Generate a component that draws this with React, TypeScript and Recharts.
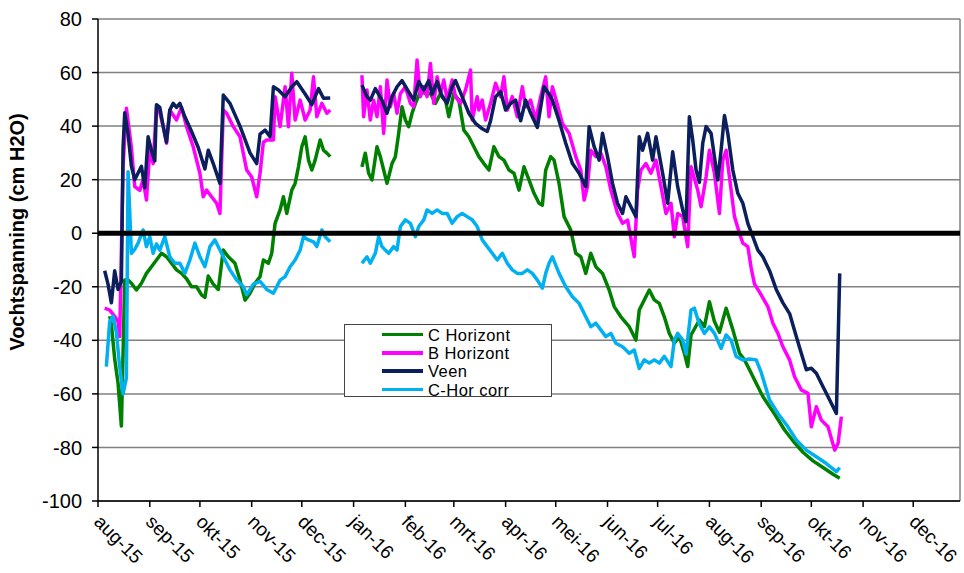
import React from 'react';
import { LineChart, Line, XAxis, YAxis, CartesianGrid, ReferenceLine } from 'recharts';

// x = days since 1 Aug 2015
const monthTicks = [0, 31, 61, 92, 122, 153, 184, 213, 244, 274, 305, 335, 366, 397, 427, 458, 488];
const monthLabels = ['aug-15', 'sep-15', 'okt-15', 'nov-15', 'dec-15', 'jan-16', 'feb-16', 'mrt-16', 'apr-16', 'mei-16', 'jun-16', 'jul-16', 'aug-16', 'sep-16', 'okt-16', 'nov-16', 'dec-16'];
const yTicks = [-100, -80, -60, -40, -20, 0, 20, 40, 60, 80];

const seriesNames = ['C Horizont', 'B Horizont', 'Veen', 'C-Hor corr'];
const seriesColors = ['#008000', '#FF00FF', '#0A1F5C', '#00B0F0'];

const cHorizont: [number, number | null][] = [
  [7, -31], [8, -34], [10, -47], [12, -56], [14, -72], [16, -17.5], [18, -17.5], [20, -18.7], [23, -21.2], [26, -18.7],
  [29, -15], [32, -12.5], [35, -10], [38, -7.5], [41, -8.8], [44, -11.2], [47, -13.7], [50, -15], [53, -17], [56, -20],
  [59, -20], [62, -23], [64, -24], [66, -16], [69, -19], [72, -21], [75, -6.3], [78, -8.8], [80, -10], [82, -11.2],
  [85, -17.5], [88, -25], [91, -22.4], [94, -18.7], [97, -16.2], [99, -10], [102, -11.2], [104, -7.5], [106, 3.7], [109, 8.7],
  [111, 13.6], [113, 7.4], [116, 16.1], [118, 18.6], [120, 24.8], [122, 32.3], [124, 36], [126, 27.3], [128, 23.6], [130, 27.3],
  [133, 34.8], [135, 31], [137, 29.9], [139, 28.6], [148, null],
  [158, 24.8], [160, 29.9], [162, 22.4], [164, 19.9], [167, 32.3], [169, 28.6], [171, 23.6], [173, 18.6], [176, 26], [178, 28.6],
  [180, 37.3], [182, 47.2], [184, 42.3], [186, 39.8], [188, 44.8], [190, 48.5], [193, 52.8], [196, 52.2], [199, 52.2], [202, 48.5],
  [205, 52.2], [208, 49.7], [210, 43.5], [213, 52.2], [216, 49.7], [219, 38.5], [222, 36], [225, 32.3], [228, 28.6], [231, 26],
  [234, 23.6], [237, 32.3], [240, 28.6], [243, 27.3], [246, 23.6], [249, 22.4], [252, 16.1], [255, 24.8], [258, 19.9], [261, 14.9],
  [264, 11.2], [266, 10.5], [268, 23.6], [271, 28.6], [273, 27.3], [276, 18.6], [279, 6.2], [283, 1.2], [286, -7.5], [289, -8.8],
  [292, -15], [295, -7.5], [298, -12.5], [302, -15], [306, -21.2], [309, -27.4], [313, -31.2], [318, -34.9], [322, -39.9], [324, -28.7],
  [327, -24.9], [330, -21.2], [333, -24.9], [336, -26.2], [339, -31.2], [342, -37.4], [345, -41.1], [348, -38.6], [351, -44.8], [353, -49.8],
  [355, -38], [360, -32.4], [363, -34.9], [366, -25.6], [369, -33], [372, -37], [376, -28], [380, -36], [384, -44.8], [387, -47.3],
  [390, -51], [394, -56], [398, -61], [405, -67.5], [411, -73.5], [416, -77.5], [422, -81.8], [428, -85], [434, -87.5], [440, -90],
  [444, -91.5],
];

const bHorizont: [number, number | null][] = [
  [4, -28], [7, -28.7], [10, -31], [12, -33], [13, -38.6], [15, 25], [17, 46.7], [20, 32], [22, 17.4], [25, 16],
  [27, 20], [29, 12.4], [31, 31], [33, 26], [35, 47], [37, 45], [39, 40], [41, 33.6], [43, 46], [47, 42.3],
  [50, 47], [53, 39.8], [57, 32.3], [61, 22.4], [63, 13.6], [65, 16.1], [68, 13.6], [71, 11.2], [73, 7.4], [75, 46],
  [77, 44.8], [81, 39.8], [85, 36], [89, 23.6], [92, 21], [95, 13.6], [97, 22.4], [99, 34], [101, 34.8], [105, 34.8],
  [106, 51], [109, 39.8], [112, 54.7], [114, 39.8], [116, 59.7], [118, 42.3], [121, 49.7], [124, 42.3], [127, 46], [129, 58.4],
  [131, 43.5], [134, 48.5], [137, 44.8], [139, 46], [148, null],
  [158, 59], [159, 43.5], [161, 53.5], [163, 42.3], [165, 49.7], [167, 43.5], [169, 54.7], [171, 37.3], [173, 57.2], [175, 47.2],
  [177, 52.2], [179, 44.8], [181, 52.2], [184, 54.7], [187, 48.5], [189, 47.2], [191, 64.7], [193, 51], [195, 54.7], [197, 51],
  [199, 63.4], [201, 48.5], [203, 58.4], [205, 52.2], [207, 57.2], [209, 49.7], [212, 57.2], [214, 51], [217, 48.5], [220, 53.5],
  [223, 60.9], [224, 42.3], [227, 51], [228, 46], [230, 49.7], [232, 42.3], [235, 48.5], [238, 56], [241, 51], [243, 58.4],
  [245, 46], [248, 51], [251, 43.5], [254, 54.7], [256, 47.2], [259, 49.7], [262, 42.3], [265, 51], [268, 58.4], [270, 43.5],
  [272, 54.7], [275, 48], [278, 41], [282, 37.3], [286, 28.6], [289, 23.6], [291, 12.4], [293, 17.4], [295, 31], [298, 28.6],
  [301, 29.9], [304, 24.8], [307, 16.1], [311, 7.4], [314, 3.7], [317, 4.9], [321, -8.8], [323, 16.1], [325, 23.6], [328, 26],
  [331, 22.4], [334, 27.3], [337, 17.4], [340, 7.4], [343, 11.2], [345, -1.3], [347, 7.4], [350, 6.2], [353, -5], [355, 24.8],
  [359, 16.1], [361, 9.9], [364, 21], [366, 31], [369, 22.4], [372, 7.4], [374, 27.3], [376, 31], [378, 21], [381, 6.2],
  [384, 0], [386, -3.7], [389, -5], [391, -13], [393, -19], [396, -22], [401, -27.4], [404, -33.6], [407, -37.4], [410, -42.4],
  [414, -47.3], [417, -53.6], [421, -58.5], [425, -59.8], [427, -72.3], [430, -64.8], [433, -69.8], [437, -72.3], [441, -81], [443, -78.5],
  [445, -68.5],
];

const veen: [number, number | null][] = [
  [4, -14], [6, -19], [8, -26], [10, -14], [12, -21], [14, -18], [15, 32], [16, 45], [18, 37], [20, 25],
  [22, 20], [24, 22.5], [26, 25], [28, 17], [30, 36], [32, 31], [34, 27], [35, 48], [37, 47], [39, 40],
  [41, 34], [43, 46], [45, 48.5], [47, 47], [49, 48.5], [52, 43.5], [56, 38], [60, 32], [64, 24], [66, 31],
  [69, 26], [73, 18.6], [75, 51.6], [79, 48.5], [85, 40], [91, 30], [95, 26], [97, 37], [100, 38.5], [103, 36],
  [105, 54.7], [108, 53.5], [112, 51], [116, 54.7], [119, 56.6], [124, 52], [128, 48], [132, 54], [135, 50.4], [139, 50.5],
  [148, null],
  [158, 55.3], [161, 51], [163, 49.7], [166, 54], [170, 49.7], [173, 44.8], [176, 51], [179, 54.7], [182, 57], [186, 52.8],
  [189, 49.7], [192, 56.6], [195, 53.5], [198, 57], [200, 52], [203, 56.6], [206, 51], [209, 48.5], [212, 54.7], [214, 57],
  [218, 51], [222, 44.8], [226, 41], [230, 39], [233, 38], [235, 42], [238, 51], [241, 52.8], [244, 46], [247, 48.5],
  [250, 49.7], [253, 42], [256, 49.7], [259, 44.8], [263, 39.5], [267, 54.7], [270, 52], [272, 49.7], [276, 42], [280, 33.6],
  [284, 26], [288, 22.4], [292, 17.4], [294, 39.8], [297, 32.3], [300, 27.3], [302, 37.3], [305, 28.6], [308, 18.6], [311, 11.2],
  [314, 7.4], [316, 13.6], [319, 9.9], [322, 6.2], [324, 36], [326, 31], [329, 37.3], [332, 27.3], [334, 36], [338, 22.4],
  [341, 11.2], [344, 30.4], [347, 17.4], [350, 8.7], [352, 4.3], [354, 43.5], [356, 34.8], [358, 23.6], [360, 19], [362, 33.6],
  [364, 39.8], [367, 37.3], [369, 28.6], [371, 19.9], [373, 31], [375, 44], [377, 37.3], [380, 23.6], [383, 14.9], [386, 11.2],
  [389, 3.7], [392, -1.3], [395, -6.3], [398, -8.8], [402, -14], [406, -21], [410, -26], [414, -30], [418, -38.6], [421, -44.8],
  [424, -51], [427, -50.4], [430, -52.3], [434, -57.3], [438, -62.3], [442, -67.3], [444, -15],
];

const cHorCorr: [number, number | null][] = [
  [5, -49.8], [7, -33], [9, -31], [11, -37], [13, -50], [15, -60], [17, -54], [18, 23], [20, -7.5], [22, -6],
  [24, -3.7], [27, 1.2], [29, -5], [31, -1.3], [33, -7.5], [35, -4], [37, -6.3], [40, -1.3], [43, -8.8], [46, -11.2],
  [49, -11.2], [52, -15], [55, -10], [58, -3.7], [61, -8.8], [64, -12.5], [67, -5], [70, -2.5], [73, -6.3], [76, -10],
  [79, -13.7], [83, -17.5], [87, -20], [89, -23], [93, -19], [97, -18], [101, -21], [105, -22.4], [109, -17.5], [112, -16.2],
  [115, -12.5], [118, -10], [121, -6.3], [123, -1.3], [126, -2.5], [129, -3.2], [131, -5], [134, 1.2], [136, -1.3], [139, -3.2],
  [148, null],
  [158, -11.2], [161, -8.8], [163, -11.2], [166, -7.5], [168, -1.3], [170, -5], [172, -6.3], [174, -7.5], [177, -5], [179, -6.3],
  [181, 2.5], [184, 5], [187, 3.7], [190, -1.3], [192, 2.5], [195, 5], [197, 8.7], [200, 7.4], [203, 8.7], [206, 7.4],
  [209, 7.4], [212, 3.7], [215, 6.2], [218, 7.4], [221, 6.2], [224, 5], [227, 2.5], [230, -2.5], [233, -5], [236, -7.5],
  [239, -10], [242, -7.5], [245, -11.2], [248, -13.7], [251, -15], [254, -15], [257, -13.7], [260, -15], [263, -17.5], [266, -20.5],
  [268, -15], [270, -11.2], [272, -8.8], [276, -15], [280, -20], [284, -23.7], [288, -26.2], [292, -31.2], [295, -34.9], [298, -33.6],
  [301, -36.1], [304, -38.6], [307, -37.4], [310, -41.1], [314, -42.4], [318, -44.8], [321, -43.6], [324, -50.5], [327, -47.3], [330, -48.5],
  [333, -47.3], [336, -48.5], [339, -46], [343, -49.8], [345, -40], [347, -37.4], [350, -39.9], [352, -45], [355, -28.7], [357, -28],
  [360, -34], [363, -37.4], [366, -35], [369, -37.4], [373, -43], [376, -38], [379, -40], [382, -46], [386, -47.3], [390, -47],
  [394, -47.3], [397, -52], [402, -62.3], [407, -67.3], [413, -72.3], [418, -77.2], [424, -81], [430, -83.5], [436, -86], [442, -89],
  [444, -87.5],
];

const allSeries = [cHorizont, bHorizont, veen, cHorCorr];

const FONT = '"Liberation Sans", Arial, sans-serif';

const XTick = (props: any) => {
  const { x, y, payload } = props;
  const idx = monthTicks.indexOf(payload.value);
  const bx = x - 5;
  const by = y + 14;
  return (
    <text x={bx} y={by} transform={`rotate(45, ${bx}, ${by})`} textAnchor="start" fontSize={19} fontFamily={FONT} fill="#000">
      {idx >= 0 ? monthLabels[idx] : ''}
    </text>
  );
};

const YLabel = () => (
  <text x={24} y={232} transform="rotate(-90, 24, 232)" textAnchor="middle" fontSize={20} fontWeight="bold" fontFamily={FONT} fill="#000">
    Vochtspanning (cm H2O)
  </text>
);

export default function App() {
  return (
    <div style={{ position: 'absolute', left: 0, top: 0, width: 964, height: 573, background: '#fff', fontFamily: FONT }}>
      <LineChart width={964} height={573} margin={{ top: 19, right: 4, left: 0, bottom: 0 }}>
        <CartesianGrid vertical={false} stroke="#808080" strokeWidth={1.5} />
        <XAxis
          type="number"
          dataKey="d"
          domain={[0, 516]}
          ticks={monthTicks}
          interval={0}
          height={72}
          tick={<XTick />}
          tickSize={6}
          tickMargin={2}
          axisLine={{ stroke: '#000', strokeWidth: 1.5 }}
          tickLine={{ stroke: '#000', strokeWidth: 1.5 }}
          allowDataOverflow
        />
        <YAxis
          type="number"
          domain={[-100, 80]}
          ticks={yTicks}
          interval={0}
          width={98}
          tickSize={6}
          tickMargin={10}
          tick={{ fontSize: 20, fill: '#000', fontFamily: FONT }}
          axisLine={{ stroke: '#000', strokeWidth: 1.5 }}
          tickLine={{ stroke: '#000', strokeWidth: 1.5 }}
          label={<YLabel />}
        />
        <ReferenceLine x={516} stroke="#808080" strokeWidth={1.5} />
        {allSeries.map((s, i) => (
          <Line
            key={seriesNames[i]}
            name={seriesNames[i]}
            data={s.map(([d, v]) => ({ d, v }))}
            dataKey="v"
            type="linear"
            stroke={seriesColors[i]}
            strokeWidth={3.5}
            strokeLinejoin="round"
            dot={false}
            activeDot={false}
            connectNulls={false}
            isAnimationActive={false}
          />
        ))}
        <ReferenceLine y={0} stroke="#000" strokeWidth={5} />
      </LineChart>
      <div
        style={{
          position: 'absolute', left: 344, top: 324, width: 208, height: 73, boxSizing: 'border-box',
          border: '1px solid #444', background: '#fff', fontSize: 16.5, fontFamily: FONT, color: '#000',
        }}
      >
        {seriesNames.map((n, i) => (
          <div key={n} style={{ position: 'absolute', left: 37, top: 0.5 + i * 18.3, height: 18.3, display: 'flex', alignItems: 'center', whiteSpace: 'nowrap', lineHeight: '18px' }}>
            <span style={{ display: 'inline-block', width: 41, height: 3.5, background: seriesColors[i], marginRight: 5 }} />
            <span style={{ letterSpacing: '0.45px' }}>{n}</span>
          </div>
        ))}
      </div>
    </div>
  );
}
